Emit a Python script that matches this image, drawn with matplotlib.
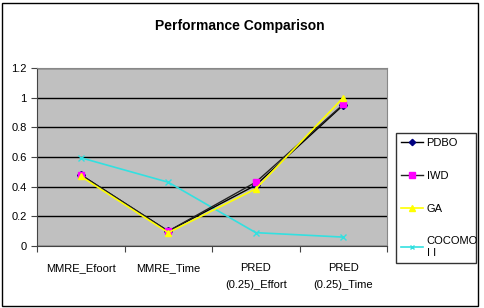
import matplotlib.pyplot as plt
from matplotlib.patches import Rectangle

categories = ["MMRE_Efoort", "MMRE_Time", "PRED\n(0.25)_Effort", "PRED\n(0.25)_Time"]
pdbo = [0.48, 0.10, 0.41, 0.95]
iwd = [0.48, 0.10, 0.43, 0.955]
ga = [0.47, 0.09, 0.385, 1.0]
cocomo = [0.595, 0.43, 0.09, 0.06]
y_ticks = [0, 0.2, 0.4, 0.6, 0.8, 1, 1.2]
y_tick_labels = ["0", "0.2", "0.4", "0.6", "0.8", "1", "1.2"]

plt.rcParams['font.family'] = ['Liberation Sans', 'DejaVu Sans']

fig = plt.figure(figsize=(4.85, 3.08), dpi=100)
ax = fig.add_axes([37 / 485, 1 - 246 / 308, 350 / 485, 178 / 308])
ax.set_facecolor("#C0C0C0")

x = list(range(len(categories)))
ax.plot(x, cocomo, color="#33E0E0", marker="x", markersize=4, lw=1.2, label="COCOMO\nI I", zorder=3)
ax.plot(x, pdbo, color="black", marker="D", markersize=4, mfc="#000080", mec="#000080", lw=1.0, label="PDBO", zorder=4)
ax.plot(x, iwd, color="#222222", marker="s", markersize=5, mfc="#FF00FF", mec="#FF00FF", lw=1.0, label="IWD", zorder=5)
ax.plot(x, ga, color="#FFFF00", marker="^", markersize=5, mfc="#FFFF00", mec="#FFFF00", lw=1.2, label="GA", zorder=6)

ax.set_xlim(-0.5, len(categories) - 0.5)
ax.set_ylim(0, 1.2)
ax.set_yticks(y_ticks)
ax.set_yticklabels(y_tick_labels, fontsize=8)
ax.yaxis.grid(True, color="black", lw=1)
ax.set_axisbelow(True)

ax.set_xticks([i - 0.5 for i in range(len(categories) + 1)])
ax.set_xticklabels([])
ax.set_xticks(x, minor=True)
ax.set_xticklabels(categories, minor=True, fontsize=8, linespacing=1.9)
ax.tick_params(axis="x", which="minor", length=0, pad=12)
ax.tick_params(axis="both", which="major", length=4, color="#444444", direction="out")

for side in ["top", "right"]:
    ax.spines[side].set_color("#888888")
for side in ["left", "bottom"]:
    ax.spines[side].set_color("#444444")

fig.text(240 / 485, 1 - 26 / 308, "Performance Comparison", ha="center", va="center",
         fontsize=10, fontweight="bold")

handles, labels = ax.get_legend_handles_labels()
order = [1, 2, 3, 0]
leg = ax.legend([handles[i] for i in order], [labels[i] for i in order],
                loc="upper left", bbox_to_anchor=(396 / 485, 1 - 271 / 308, 80 / 485, 138 / 308),
                bbox_transform=fig.transFigure, mode="expand", borderaxespad=0,
                fontsize=8, frameon=True, fancybox=False, edgecolor="black", labelspacing=2.05,
                handlelength=2.0, handletextpad=0.3, borderpad=0.45, markerscale=0.8)
leg.get_frame().set_linewidth(1)

fig.patches.append(Rectangle((2 / 485, 2 / 308), 476 / 485, 303 / 308, transform=fig.transFigure,
                             fill=False, edgecolor="black", lw=1))

fig.savefig("out.png", dpi=100)
